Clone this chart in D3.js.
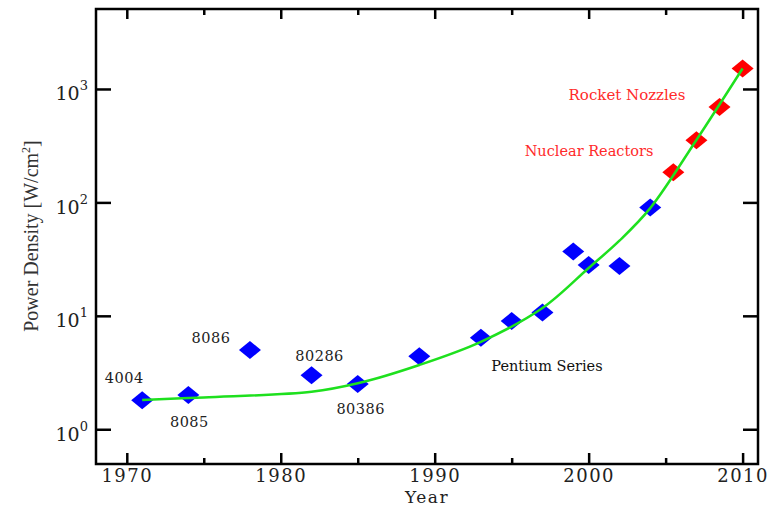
<!DOCTYPE html>
<html>
<head>
<meta charset="utf-8">
<script src="https://cdn.jsdelivr.net/npm/d3@7"></script>
<style>
  body { margin: 0; background: #fff; }
  text { font-family: "DejaVu Serif", serif; }
</style>
</head>
<body>
<script>
// Intel chips, power density per year
var chipYears = [1971, 1974, 1978, 1982, 1985, 1989, 1993, 1995, 1997, 1999, 2000, 2002, 2004]
var chipDensity = [1.8, 2.0, 5.0, 3.0, 2.5, 4.4, 6.4, 9.0, 10.7, 37, 28, 27.5, 90]

// projected points (red)
var projYears = [2005.5, 2007, 2008.5, 2010]
var projDensity = [184, 354, 695, 1515]

// green trend line
var trendYears = [1971, 1975, 1982, 1985, 1989, 1993, 1997, 2000, 2002, 2004, 2007, 2010]
var trendDensity = [1.81, 1.91, 2.14, 2.54, 3.69, 5.9, 11.7, 26.4, 46, 89, 355, 1515]

// labels for the first chips
var chipNames = ["4004", "8085", "8086", "80286", "80386"]
var nameOffsets = [[-18, -22], [1, 27], [-39, -12], [8, -19], [3, 25]]

var xMajor = [1970, 1980, 1990, 2000, 2010]
var xMinor = [1975, 1985, 1995, 2005]
var yTicks = [1, 10, 100, 1000]
var yExp = ["0", "1", "2", "3"]

var W = 771, H = 507
var margin = {top: 9, right: 13, bottom: 43, left: 96},
    width = W - margin.left - margin.right,
    height = H - margin.top - margin.bottom

var svg = d3.select("body").append("svg")
    .attr("width", W)
    .attr("height", H)
  .append("g")
    .attr("transform", "translate(" + margin.left + "," + margin.top + ")")

var x = d3.scaleLinear().domain([1968, 2011]).range([0, width])
var y = d3.scaleLog().domain([0.494, 5070]).range([height, 0])

// ticks, all pointing inwards
function xAxisMarks(axisFn, ty, majorLen, minorLen) {
  var gMaj = svg.append("g").attr("transform", "translate(0," + ty + ")")
    .call(axisFn(x).tickValues(xMajor).tickSize(-majorLen).tickFormat(""))
  var gMin = svg.append("g").attr("transform", "translate(0," + ty + ")")
    .call(axisFn(x).tickValues(xMinor).tickSize(-minorLen).tickFormat(""))
  ;[gMaj, gMin].forEach(function(g) {
    g.select(".domain").remove()
    g.selectAll("line").attr("stroke", "#000").attr("stroke-width", 2.5)
  })
  return gMaj
}

var bottom = xAxisMarks(d3.axisBottom, height, 11, 6)
xAxisMarks(d3.axisTop, 0, 10, 6)

// x tick labels
bottom.selectAll(".tick text").remove()
bottom.selectAll(".tick").append("text")
    .attr("y", 18)
    .attr("text-anchor", "middle")
    .attr("fill", "#222")
    .style("font-size", "18px")
    .style("letter-spacing", "1.5px")
    .text(function(d) { return d })

// y ticks left and right
var left = svg.append("g")
    .call(d3.axisLeft(y).tickValues(yTicks).tickSize(-15).tickFormat(""))
var right = svg.append("g").attr("transform", "translate(" + width + ",0)")
    .call(d3.axisRight(y).tickValues(yTicks).tickSize(-15).tickFormat(""))
;[left, right].forEach(function(g) {
  g.select(".domain").remove()
  g.selectAll("line").attr("stroke", "#000").attr("stroke-width", 2.5)
})

var yl = left.selectAll(".tick").append("text")
    .attr("x", -8)
    .attr("y", 11)
    .attr("text-anchor", "end")
    .attr("fill", "#222")
    .style("font-size", "19px")
yl.append("tspan").text("10")
yl.append("tspan")
    .attr("dy", -10)
    .style("font-size", "13px")
    .text(function(d, i) { return yExp[i] })

// frame
svg.append("rect")
    .attr("width", width)
    .attr("height", height)
    .attr("fill", "none")
    .attr("stroke", "#000")
    .attr("stroke-width", 2.5)

// trend line
var trend = trendYears.map(function(d, i) { return [d, trendDensity[i]] })
var line = d3.line()
    .x(function(d) { return x(d[0]) })
    .y(function(d) { return y(d[1]) })
    .curve(d3.curveCatmullRom)

// diamonds
var diamond = "M0,-9L11,0L0,9L-11,0Z"
var chips = chipYears.map(function(d, i) { return [d, chipDensity[i]] })
var proj = projYears.map(function(d, i) { return [d, projDensity[i]] })

svg.selectAll("path.chip").data(chips).enter().append("path")
    .attr("class", "chip")
    .attr("d", diamond)
    .attr("fill", "#0000ff")
    .attr("transform", function(d) { return "translate(" + x(d[0]) + "," + y(d[1]) + ")" })

svg.selectAll("path.proj").data(proj).enter().append("path")
    .attr("class", "proj")
    .attr("d", diamond)
    .attr("fill", "#ff0000")
    .attr("transform", function(d) { return "translate(" + x(d[0]) + "," + y(d[1]) + ")" })

svg.append("path")
    .datum(trend)
    .attr("d", line)
    .attr("fill", "none")
    .attr("stroke", "#1ee01e")
    .attr("stroke-width", 2.5)

// chip names
svg.selectAll("text.chipname").data(chipNames).enter().append("text")
    .attr("class", "chipname")
    .attr("x", function(d, i) { return x(chipYears[i]) + nameOffsets[i][0] })
    .attr("y", function(d, i) { return y(chipDensity[i]) + nameOffsets[i][1] })
    .attr("text-anchor", "middle")
    .attr("dominant-baseline", "central")
    .attr("fill", "#222")
    .style("font-size", "14.5px")
    .style("letter-spacing", "0.5px")
    .text(function(d) { return d })

// other annotations (page coordinates minus margins)
svg.append("text")
    .attr("x", 547 - margin.left).attr("y", 366 - margin.top)
    .attr("text-anchor", "middle").attr("dominant-baseline", "central")
    .attr("fill", "#111")
    .style("font-size", "14.5px")
    .text("Pentium Series")

svg.append("text")
    .attr("x", 627 - margin.left).attr("y", 95 - margin.top)
    .attr("text-anchor", "middle").attr("dominant-baseline", "central")
    .attr("fill", "#ff2a2a")
    .style("font-size", "15px")
    .text("Rocket Nozzles")

svg.append("text")
    .attr("x", 589 - margin.left).attr("y", 151 - margin.top)
    .attr("text-anchor", "middle").attr("dominant-baseline", "central")
    .attr("fill", "#ff2a2a")
    .style("font-size", "14.5px")
    .text("Nuclear Reactors")

// axis titles
svg.append("text")
    .attr("x", 427 - margin.left).attr("y", 502.5 - margin.top)
    .attr("text-anchor", "middle")
    .attr("fill", "#222")
    .style("font-size", "17px")
    .style("letter-spacing", "1.5px")
    .text("Year")

var yt = svg.append("text")
    .attr("transform", "translate(" + (38 - margin.left) + "," + (236 - margin.top) + ") rotate(-90)")
    .attr("text-anchor", "middle")
    .attr("fill", "#333")
    .style("font-family", "'Liberation Serif', serif")
    .style("font-size", "20px")
yt.append("tspan").text("Power Density [W/cm")
yt.append("tspan").attr("dy", -8).style("font-size", "12px").text("2")
yt.append("tspan").attr("dy", 8).text("]")
</script>
</body>
</html>
